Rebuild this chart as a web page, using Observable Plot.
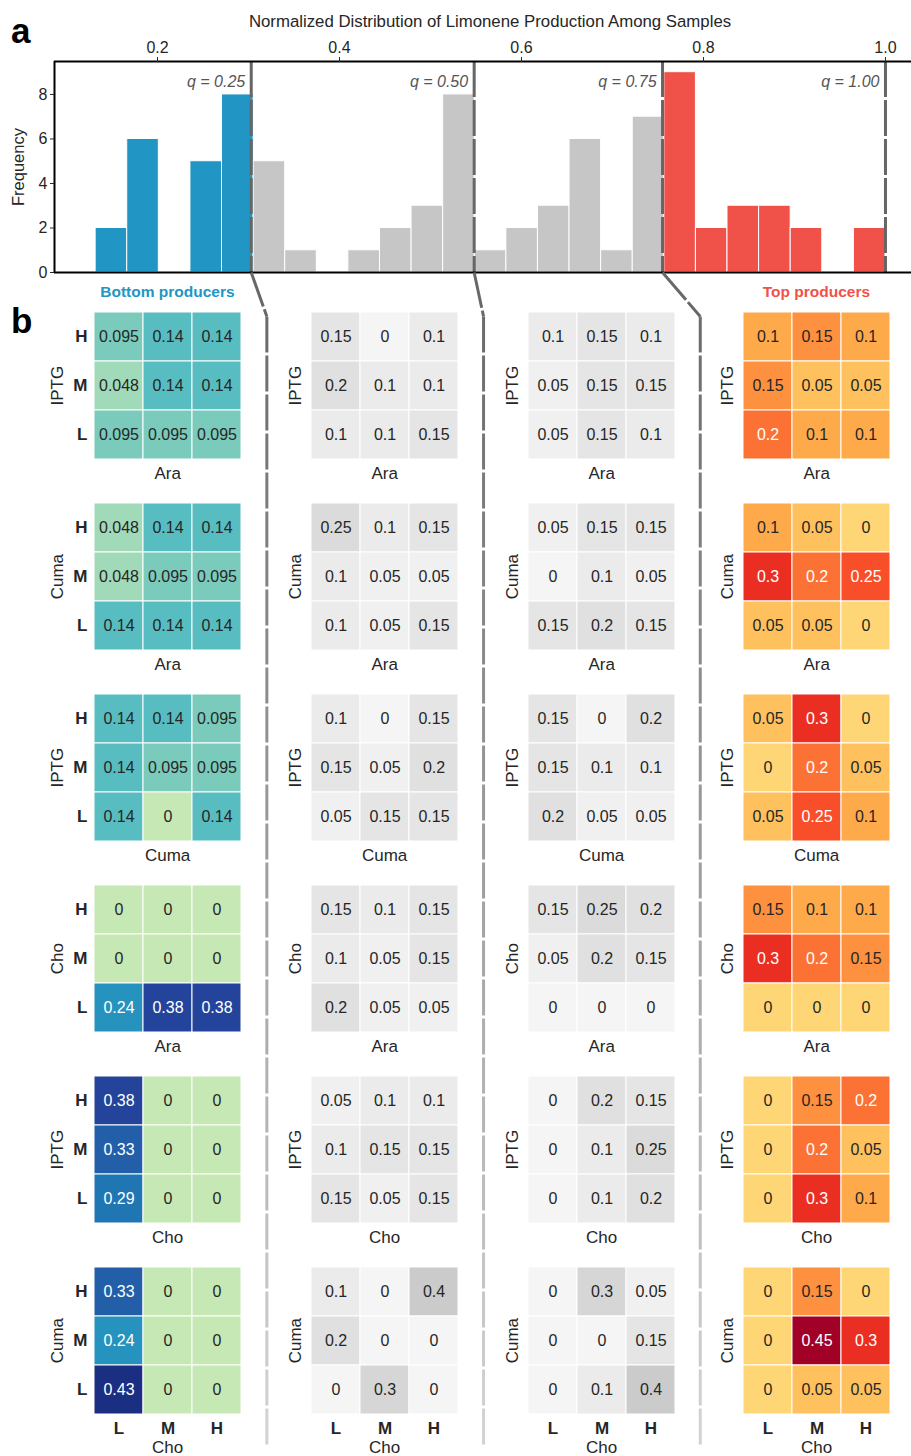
<!DOCTYPE html>
<html>
<head>
<meta charset="utf-8">
<script src="https://cdn.jsdelivr.net/npm/d3@7"></script>
<script src="https://cdn.jsdelivr.net/npm/@observablehq/plot@0.6"></script>
<style>
  body { margin: 0; background: #fff; }
  #root { position: relative; width: 911px; height: 1456px; overflow: hidden; background: #fff;
          font-family: "Liberation Sans", Arial, sans-serif; color: #262626; }
  #root > svg, #root > div { position: absolute; }
  .panel { font-weight: bold; font-size: 35px; color: #000; line-height: 1; }
  .grp { font-weight: bold; font-size: 15.5px; transform: translateX(-50%); white-space: nowrap; }
</style>
</head>
<body>
<div id="root"></div>
<script>
// ---------------- data ----------------
const histTitle = "Normalized Distribution of Limonene Production Among Samples";
const histMin = 0.132, histMax = 1.0;
const histCounts = [2, 6, 0, 5, 8, 5, 1, 0, 1, 2, 3, 8, 1, 2, 3, 6, 1, 7, 9, 2, 3, 3, 2, 0, 2];
const quantileLabels = ["q = 0.25", "q = 0.50", "q = 0.75", "q = 1.00"];
const quantileValues = [0.303, 0.548, 0.755, 1.0];
const histTicks = [0.2, 0.4, 0.6, 0.8, 1.0];
const freqTicks = [0, 2, 4, 6, 8];

const levels = ["L", "M", "H"];          // columns left->right
const rowLevels = ["H", "M", "L"];       // rows top->bottom
const panelPairs = [["IPTG", "Ara"], ["Cuma", "Ara"], ["IPTG", "Cuma"], ["Cho", "Ara"], ["IPTG", "Cho"], ["Cuma", "Cho"]]; // [y, x]

// matrices: rows H, M, L ; columns L, M, H
const bottomProducers = [
  [[0.095, 0.14, 0.14], [0.048, 0.14, 0.14], [0.095, 0.095, 0.095]],
  [[0.048, 0.14, 0.14], [0.048, 0.095, 0.095], [0.14, 0.14, 0.14]],
  [[0.14, 0.14, 0.095], [0.14, 0.095, 0.095], [0.14, 0, 0.14]],
  [[0, 0, 0], [0, 0, 0], [0.24, 0.38, 0.38]],
  [[0.38, 0, 0], [0.33, 0, 0], [0.29, 0, 0]],
  [[0.33, 0, 0], [0.24, 0, 0], [0.43, 0, 0]]
];
const secondQuartile = [
  [[0.15, 0, 0.1], [0.2, 0.1, 0.1], [0.1, 0.1, 0.15]],
  [[0.25, 0.1, 0.15], [0.1, 0.05, 0.05], [0.1, 0.05, 0.15]],
  [[0.1, 0, 0.15], [0.15, 0.05, 0.2], [0.05, 0.15, 0.15]],
  [[0.15, 0.1, 0.15], [0.1, 0.05, 0.15], [0.2, 0.05, 0.05]],
  [[0.05, 0.1, 0.1], [0.1, 0.15, 0.15], [0.15, 0.05, 0.15]],
  [[0.1, 0, 0.4], [0.2, 0, 0], [0, 0.3, 0]]
];
const thirdQuartile = [
  [[0.1, 0.15, 0.1], [0.05, 0.15, 0.15], [0.05, 0.15, 0.1]],
  [[0.05, 0.15, 0.15], [0, 0.1, 0.05], [0.15, 0.2, 0.15]],
  [[0.15, 0, 0.2], [0.15, 0.1, 0.1], [0.2, 0.05, 0.05]],
  [[0.15, 0.25, 0.2], [0.05, 0.2, 0.15], [0, 0, 0]],
  [[0, 0.2, 0.15], [0, 0.1, 0.25], [0, 0.1, 0.2]],
  [[0, 0.3, 0.05], [0, 0, 0.15], [0, 0.1, 0.4]]
];
const topProducers = [
  [[0.1, 0.15, 0.1], [0.15, 0.05, 0.05], [0.2, 0.1, 0.1]],
  [[0.1, 0.05, 0], [0.3, 0.2, 0.25], [0.05, 0.05, 0]],
  [[0.05, 0.3, 0], [0, 0.2, 0.05], [0.05, 0.25, 0.1]],
  [[0.15, 0.1, 0.1], [0.3, 0.2, 0.15], [0, 0, 0]],
  [[0, 0.15, 0.2], [0, 0.2, 0.05], [0, 0.3, 0.1]],
  [[0, 0.15, 0], [0, 0.45, 0.3], [0, 0.05, 0.05]]
];

// ---------------- style / layout ----------------
const FONT = '"Liberation Sans", Arial, sans-serif';
const INK = "#262626";
const BLUE = "#2196c4", GRAY = "#c6c6c6", RED = "#f0524a";
const TICK_FS = 16;
const root = document.getElementById("root");

const histLeft = 54, histTop = 61, histBottom = 272;
const xDomain = [0.0868, 1.0286];
const yMax = 9.48;

const cellBlock = 148.35;
const colLeft = [93.3, 310, 526.7, 742.3];
const rowTop0 = 310.7, rowStep = 191;
const hmMarginL = 60, hmMarginT = 2, hmMarginR = 4, hmMarginB = 46;

function place(el, left, top) {
  el.style.position = "absolute";
  el.style.left = left + "px";
  el.style.top = top + "px";
  root.appendChild(el);
  return el;
}

// ---------------- histogram ----------------
const binW = (histMax - histMin) / histCounts.length;
const bins = histCounts.map((c, i) => {
  const x1 = histMin + i * binW, x2 = histMin + (i + 1) * binW, m = (x1 + x2) / 2;
  const group = m < quantileValues[0] ? "bottom" : m > quantileValues[2] ? "top" : "middle";
  return {x1, x2, count: c, group};
});
const qData = quantileValues.map((q, i) => ({q, label: quantileLabels[i]}));

const hasAxisMarks = typeof Plot.axisX === "function";
const axisMarks = hasAxisMarks ? [
  Plot.axisX({anchor: "top", ticks: histTicks, tickFormat: d3.format(".1f"), tickSize: 5, tickPadding: 4,
    fontSize: TICK_FS, label: null, stroke: INK, fill: INK}),
  Plot.axisY({anchor: "left", ticks: freqTicks, tickSize: 4, tickPadding: 3, fontSize: TICK_FS, label: null,
    stroke: INK, fill: INK})
] : [];

const hist = Plot.plot({
  width: 911, height: 282,
  marginLeft: histLeft, marginTop: histTop, marginRight: 0, marginBottom: 282 - histBottom,
  style: {fontFamily: FONT, fontSize: TICK_FS + "px", color: INK, background: "none", overflow: "visible"},
  x: hasAxisMarks ? {domain: xDomain} :
    {domain: xDomain, axis: "top", ticks: histTicks, tickFormat: d3.format(".1f"), tickSize: 5, tickPadding: 4, label: null},
  y: hasAxisMarks ? {domain: [0, yMax]} :
    {domain: [0, yMax], ticks: freqTicks, tickSize: 4, tickPadding: 3, label: null},
  color: {domain: ["bottom", "middle", "top"], range: [BLUE, GRAY, RED]},
  marks: [
    Plot.rect(bins, {x1: "x1", x2: "x2", y1: () => 0, y2: "count", fill: "group", stroke: "white", strokeWidth: 1}),
    Plot.ruleX(qData, {x: "q", stroke: "#666", strokeWidth: 3, strokeDasharray: "36,3"}),
    Plot.text(qData, {x: "q", text: "label", frameAnchor: "top", lineAnchor: "middle", textAnchor: "end", dx: -6, dy: 20,
      fontStyle: "italic", fill: "#555", fontSize: 16}),
    Plot.ruleY([0, yMax], {stroke: "black", strokeWidth: 2}),
    Plot.ruleX([xDomain[0]], {stroke: "black", strokeWidth: 2}),
    ...axisMarks,
    Plot.text([histTitle], {frameAnchor: "top", lineAnchor: "middle", textAnchor: "middle", dx: 7, dy: -40, fontSize: 16.8, fill: INK}),
    Plot.text(["Frequency"], {frameAnchor: "left", lineAnchor: "middle", textAnchor: "middle", rotate: -90, dx: -36, fontSize: 16.5, fill: INK})
  ]
});
// make sure axis tick labels use the reference's size whatever the Plot version
hist.querySelectorAll('g[aria-label*="axis"]').forEach(g => {
  g.setAttribute("font-size", String(TICK_FS));
  g.querySelectorAll("text").forEach(t => { t.style.fontSize = TICK_FS + "px"; t.style.fill = INK; });
});
place(hist, 0, 0);

// ---------------- heatmaps ----------------
const groups = [
  {data: bottomProducers, color: {type: "linear", scheme: "YlGnBu", domain: [-0.155, 0.49]}, light: 0.17},
  {data: secondQuartile, color: {type: "linear", range: ["#f5f5f5", "#cbcbcb"], domain: [0, 0.4]}, light: Infinity},
  {data: thirdQuartile, color: {type: "linear", range: ["#f5f5f5", "#cbcbcb"], domain: [0, 0.4]}, light: Infinity},
  {data: topProducers, color: {type: "linear", scheme: "YlOrRd", domain: [-0.165, 0.495]}, light: 0.17}
];

groups.forEach((g, c) => {
  g.data.forEach((matrix, r) => {
    const [yName, xName] = panelPairs[r];
    const cells = [];
    matrix.forEach((row, i) => row.forEach((v, j) => cells.push({y: rowLevels[i], x: levels[j], v})));
    const showY = c === 0, showX = r === panelPairs.length - 1;
    const marks = [
      Plot.cell(cells, {x: "x", y: "y", fill: "v", stroke: "white", strokeWidth: 1}),
      Plot.text(cells, {x: "x", y: "y", text: d => String(d.v), filter: d => d.v <= g.light, fill: INK, fontSize: 16}),
      Plot.text(cells, {x: "x", y: "y", text: d => String(d.v), filter: d => d.v > g.light, fill: "white", fontSize: 16}),
      Plot.text([yName], {frameAnchor: "left", lineAnchor: "middle", textAnchor: "middle", rotate: -90,
        dx: showY ? -36.3 : -15, fontSize: 17, fill: INK}),
      Plot.text([xName], {frameAnchor: "bottom", lineAnchor: "middle", textAnchor: "middle",
        dy: showX ? 33 : 13.6, fontSize: 17, fill: INK})
    ];
    if (showY) marks.push(Plot.text(rowLevels, {y: d => d, frameAnchor: "left", lineAnchor: "middle", textAnchor: "end", dx: -6,
      fontWeight: "bold", fontSize: 17, fill: INK}));
    if (showX) marks.push(Plot.text(levels, {x: d => d, frameAnchor: "bottom", lineAnchor: "middle", textAnchor: "middle", dy: 13.6,
      fontWeight: "bold", fontSize: 17, fill: INK}));
    const p = Plot.plot({
      width: hmMarginL + cellBlock + hmMarginR, height: hmMarginT + cellBlock + hmMarginB,
      marginLeft: hmMarginL, marginTop: hmMarginT, marginRight: hmMarginR, marginBottom: hmMarginB,
      style: {fontFamily: FONT, color: INK, background: "none", overflow: "visible"},
      x: {domain: levels, padding: 0, axis: null},
      y: {domain: rowLevels, padding: 0, axis: null},
      color: g.color,
      marks
    });
    place(p, colLeft[c] - hmMarginL, rowTop0 + r * rowStep - hmMarginT);
  });
});

// ---------------- connectors from quantiles to heatmap columns ----------------
let xScale = null;
try { xScale = hist.scale("x"); } catch (e) { xScale = null; }
const xPx = v => (xScale && xScale.apply) ? xScale.apply(v)
  : histLeft + (v - xDomain[0]) / (xDomain[1] - xDomain[0]) * (911 - histLeft);

const bendY = 316, endY = 1445, dashStep = 39;
const segs = [];
for (let k = 0; k < 3; k++) {
  const x0 = xPx(quantileValues[k]);
  const xb = colLeft[k] + cellBlock + 24.7;
  segs.push({x1: x0, y1: histBottom, x2: xb, y2: bendY});
  for (let y = bendY; y < endY; y += dashStep) {
    segs.push({x1: xb, y1: y, x2: xb, y2: Math.min(y + dashStep, endY)});
  }
}
const overlay = Plot.plot({
  width: 911, height: 1456, margin: 0,
  style: {background: "none", overflow: "visible"},
  x: {domain: [0, 911], range: [0, 911], axis: null},
  y: {domain: [0, 1456], range: [0, 1456], axis: null},
  color: {type: "linear", domain: [histBottom, endY], range: ["#666666", "#d4d4d4"]},
  marks: [
    Plot.link(segs, {x1: "x1", y1: "y1", x2: "x2", y2: "y2", stroke: d => (d.y1 + d.y2) / 2,
      strokeWidth: 3, strokeDasharray: "36,3"})
  ]
});
overlay.style.pointerEvents = "none";
place(overlay, 0, 0);

// ---------------- panel letters and group titles ----------------
function addDiv(cls, text, left, top, color) {
  const d = document.createElement("div");
  d.className = cls;
  d.textContent = text;
  if (color) d.style.color = color;
  place(d, left, top);
}
addDiv("panel", "a", 11, 13);
addDiv("panel", "b", 11, 303);
addDiv("grp", "Bottom producers", colLeft[0] + cellBlock / 2, 283, BLUE);
addDiv("grp", "Top producers", colLeft[3] + cellBlock / 2, 283, RED);
</script>
</body>
</html>
